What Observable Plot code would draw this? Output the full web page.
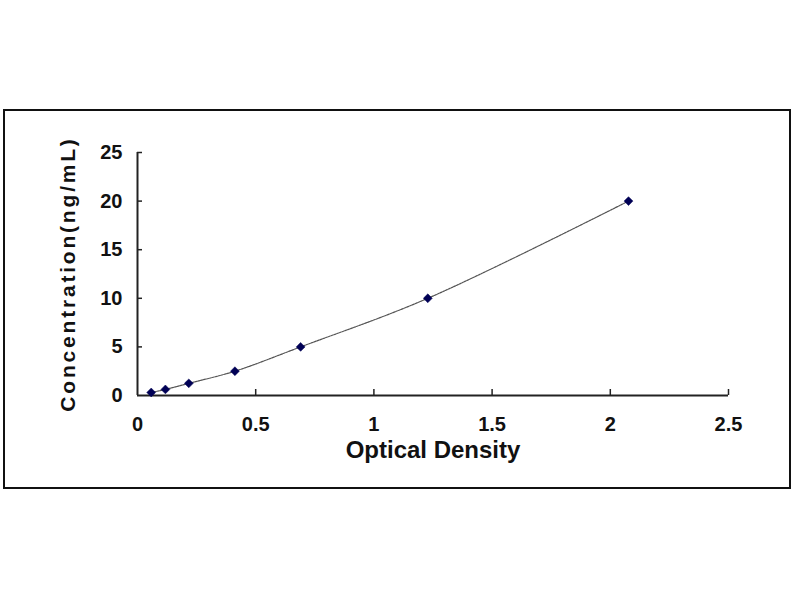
<!DOCTYPE html>
<html>
<head>
<meta charset="utf-8">
<script src="https://cdn.jsdelivr.net/npm/d3@7"></script>
<script src="https://cdn.jsdelivr.net/npm/@observablehq/plot@0.6"></script>
<style>
  html, body { margin: 0; padding: 0; background: #fff; width: 800px; height: 600px; overflow: hidden; }
  #box { position: absolute; left: 3px; top: 109px; width: 788px; height: 380px; box-sizing: border-box; border: 2px solid #111; overflow: hidden; }
  #box svg { display: block; overflow: visible; }
</style>
</head>
<body>
<div id="box"></div>
<script>
// Data
const opticalDensity = [0.058, 0.118, 0.217, 0.412, 0.690, 1.228, 2.077];
const concentration = [0.312, 0.625, 1.25, 2.5, 5, 10, 20];
const xTicks = [0, 0.5, 1, 1.5, 2, 2.5];
const yTicks = [0, 5, 10, 15, 20, 25];
const xTitle = "Optical Density";
const yTitle = "Concentration(ng/mL)";

const points = opticalDensity.map((x, i) => ({x, y: concentration[i]}));

const W = 784, H = 376;
const mL = 132, mR = 61, mT = 41, mB = 92;
const plotH = H - mT - mB, plotW = W - mL - mR;
const font = "'Liberation Sans', Arial, sans-serif";

const chart = Plot.plot({
  width: W, height: H,
  marginLeft: mL, marginRight: mR, marginTop: mT, marginBottom: mB,
  style: {fontFamily: font, background: "white", color: "#111", overflow: "visible"},
  x: {domain: [xTicks[0], xTicks[xTicks.length - 1]], ticks: xTicks},
  y: {domain: [yTicks[0], yTicks[yTicks.length - 1]], ticks: yTicks},
  marks: [
    Plot.axisX(xTicks, {tickSize: 0, tickPadding: 21, fontSize: 20, fontWeight: "bold", tickFormat: d => String(d), label: null}),
    Plot.axisY(yTicks, {tickSize: 0, tickPadding: 15, fontSize: 20, fontWeight: "bold", tickFormat: d => String(d), label: null}),
    Plot.tickX(xTicks.slice(1), {x: d => d, insetTop: plotH - 6, stroke: "#222", strokeWidth: 1.5}),
    Plot.tickY(yTicks.slice(1), {y: d => d, insetRight: plotW - 5, stroke: "#222", strokeWidth: 1.5}),
    Plot.ruleY([yTicks[0]], {stroke: "#222", strokeWidth: 2}),
    Plot.ruleX([xTicks[0]], {stroke: "#222", strokeWidth: 2}),
    Plot.line(points, {x: "x", y: "y", curve: "catmull-rom", stroke: "#555", strokeWidth: 1.2, strokeDasharray: "2,1"}),
    Plot.dot(points, {x: "x", y: "y", symbol: "diamond2", fill: "#000055", stroke: "#000055", strokeWidth: 0.5, r: 4}),
    Plot.text([xTitle], {frameAnchor: "bottom", dy: 62, fontSize: 24, fontWeight: "bold", fill: "#111"}),
    Plot.text([yTitle], {frameAnchor: "left", textAnchor: "middle", dx: -69, rotate: -90, fontSize: 21, fontWeight: "bold", fill: "#111"})
  ]
});
// widen the letter spacing of the vertical title as in the reference
chart.querySelectorAll("text").forEach(t => {
  if (t.textContent === yTitle) t.style.letterSpacing = "2.8px";
});
document.getElementById("box").appendChild(chart);
</script>
</body>
</html>
